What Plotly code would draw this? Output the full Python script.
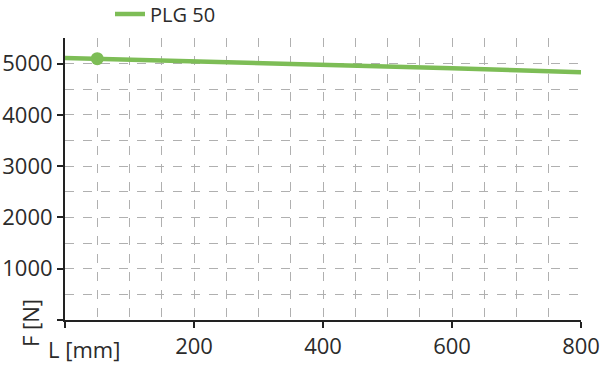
import plotly.graph_objects as go

L_mm = [0, 50, 100, 200, 300, 400, 500, 600, 700, 800]
F_N = [5112, 5097, 5080, 5050, 5020, 4990, 4950, 4910, 4870, 4830]
marker_L = [50]
marker_F = [5097]
series_name = "PLG 50"
x_ticks = [0, 200, 400, 600, 800]
x_ticktext = ["", "200", "400", "600", "800"]
y_ticks = [0, 1000, 2000, 3000, 4000, 5000]
y_ticktext = ["", "1000", "2000", "3000", "4000", "5000"]

green = "#7dbd56"
txt = "#2b2b2b"
font = "Open Sans"
FS = 22

ML, MR, MT, MB = 65, 19, 38, 45
W, H = 600, 365
pw, ph = W - ML - MR, H - MT - MB

fig = go.Figure()
fig.add_trace(go.Scatter(x=L_mm, y=F_N, mode="lines", name=series_name,
                         line=dict(color=green, width=4.5)))
fig.add_trace(go.Scatter(x=marker_L, y=marker_F, mode="markers", showlegend=False,
                         marker=dict(color=green, size=13)))

grid = dict(showgrid=True, gridcolor="#b0b0b0", griddash="dash", gridwidth=1)
common = dict(ticks="outside", ticklen=6, tickwidth=2, tickcolor="#222",
              showline=True, linecolor="#222", linewidth=2, zeroline=False,
              automargin=False, tickfont=dict(size=FS, color=txt, family=font), **grid)
fig.update_xaxes(range=[0, 800], tickvals=x_ticks, ticktext=x_ticktext,
                 minor=dict(dtick=50, tick0=0, ticks="", **grid), **common)
fig.update_yaxes(range=[0, 5500], tickvals=y_ticks, ticktext=y_ticktext,
                 minor=dict(dtick=500, tick0=0, ticks="", **grid), **common)

fig.add_annotation(text="L [mm]", x=(84 - ML) / pw, y=(H - MB - 349) / ph,
                   xref="paper", yref="paper", xanchor="center", yanchor="middle",
                   showarrow=False, font=dict(size=FS, color=txt, family=font))
fig.add_annotation(text="F [N]", x=(30 - ML) / pw, y=(H - MB - 323) / ph,
                   xref="paper", yref="paper", xanchor="center", yanchor="middle",
                   showarrow=False, textangle=-90, font=dict(size=FS, color=txt, family=font))

fig.update_layout(
    width=W, height=H, margin=dict(l=ML, r=MR, t=MT, b=MB),
    plot_bgcolor="white", paper_bgcolor="white",
    font=dict(family=font, size=FS, color=txt),
    showlegend=True,
    legend=dict(orientation="h", xref="container", yref="container",
                x=110 / W, y=1 - 14 / H, yanchor="middle", xanchor="left",
                font=dict(size=20, color=txt, family=font), itemwidth=30,
                bgcolor="rgba(0,0,0,0)"),
)
fig.write_html("out.html")
